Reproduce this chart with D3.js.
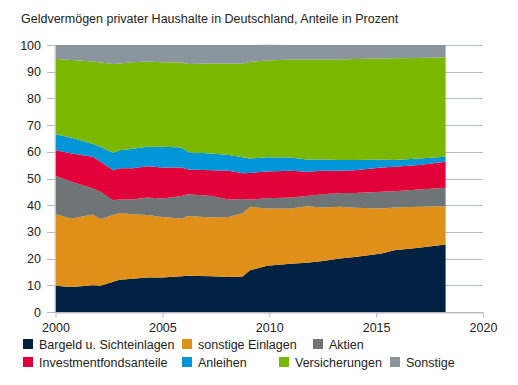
<!DOCTYPE html>
<html>
<head>
<meta charset="utf-8">
<script src="https://cdn.jsdelivr.net/npm/d3@7"></script>
<style>
  body { margin: 0; background: #fff; }
  svg { display: block; font-family: "Liberation Sans", Arial, sans-serif; }
</style>
</head>
<body>
<svg width="518" height="385"></svg>
<script>
// dates (decimal years) and shares in percent
var dates = [2000.0, 2000.75, 2001.75, 2002.1, 2002.7, 2003.0, 2003.6, 2004.3, 2005.0, 2005.9,
             2006.2, 2007.3, 2008.1, 2008.75, 2009.1, 2009.9, 2011.0, 2011.75, 2012.5, 2013.3,
             2014.0, 2015.25, 2015.85, 2017.0, 2018.25];
var bargeld = [9.8, 9.4, 10.0, 9.8, 11.3, 12.1, 12.5, 12.9, 12.9, 13.4, 13.6, 13.4, 13.1, 13.3, 15.6,
               17.3, 18.1, 18.4, 19.1, 20.0, 20.6, 21.9, 23.1, 24.1, 25.3];
var einlagen = [26.8, 25.6, 26.5, 25.0, 25.0, 25.0, 24.1, 23.4, 22.7, 21.6, 22.4, 22.0, 22.5, 23.7, 23.8,
                21.5, 20.7, 21.2, 20.0, 19.4, 18.4, 16.9, 16.0, 15.3, 14.3];
var aktien = [14.3, 13.8, 9.8, 10.2, 5.6, 5.0, 5.5, 6.6, 6.9, 8.4, 8.1, 8.0, 6.5, 5.3, 2.7,
              3.8, 4.1, 3.8, 5.0, 5.2, 5.6, 6.2, 6.1, 6.5, 6.9];
var fonds = [9.7, 10.6, 11.8, 11.3, 11.2, 11.7, 11.7, 11.7, 11.6, 10.7, 9.3, 9.7, 10.8, 9.7, 10.0,
             10.0, 10.0, 9.1, 8.8, 8.3, 8.5, 9.1, 9.2, 9.2, 9.8];
var anleihen = [6.0, 5.9, 4.8, 5.6, 6.5, 6.8, 7.3, 7.3, 7.8, 7.5, 6.4, 6.3, 5.9, 6.0, 5.4,
                5.4, 5.0, 4.6, 4.2, 4.0, 3.8, 3.0, 2.5, 2.4, 1.8];
var versicherungen = [28.2, 29.1, 30.9, 31.5, 33.3, 32.5, 32.4, 31.9, 31.6, 31.8, 33.1, 33.7, 34.3, 35.0, 36.2,
                      36.2, 36.7, 37.5, 37.5, 37.7, 37.9, 37.8, 38.1, 37.6, 37.3];
var sonstige = [5.2, 5.6, 6.2, 6.6, 7.1, 6.9, 6.5, 6.2, 6.5, 6.6, 7.1, 6.9, 6.9, 7.0, 6.3,
                5.9, 5.4, 5.4, 5.4, 5.4, 5.2, 5.1, 5.0, 4.9, 4.6];

var seriesNames = ["Bargeld u. Sichteinlagen", "sonstige Einlagen", "Aktien", "Investmentfondsanteile",
                   "Anleihen", "Versicherungen", "Sonstige"];
var seriesData = [bargeld, einlagen, aktien, fonds, anleihen, versicherungen, sonstige];
var colors = ["#002142", "#e09018", "#6d7576", "#e2003a", "#0096d8", "#7ab800", "#8a959e"];
var yTicks = [0, 10, 20, 30, 40, 50, 60, 70, 80, 90, 100];
var xTicks = [2000, 2005, 2010, 2015, 2020];

var svg = d3.select("svg");
var margin = { left: 55.5, right: 35, top: 45, bottom: 73 };
var width = 518, height = 385;

var x = d3.scaleLinear().domain([2000, 2020]).range([margin.left, width - margin.right]);
var y = d3.scaleLinear().domain([0, 100]).range([height - margin.bottom, margin.top]);

// build rows for the stack
var rows = dates.map(function (d, i) {
    var r = { date: d };
    seriesNames.forEach(function (n, k) { r[n] = seriesData[k][i]; });
    return r;
});
var stacked = d3.stack().keys(seriesNames)(rows);

svg.append("text")
    .attr("x", 21).attr("y", 23)
    .attr("font-size", 12.5).attr("fill", "#222")
    .text("Geldvermögen privater Haushalte in Deutschland, Anteile in Prozent");

// grid lines
svg.append("g").selectAll("line").data(yTicks).enter().append("line")
    .attr("x1", 47).attr("x2", x(2020))
    .attr("y1", function (d) { return Math.round(y(d)) + 0.5; })
    .attr("y2", function (d) { return Math.round(y(d)) + 0.5; })
    .attr("stroke", "#b3bac1").attr("stroke-width", 1);

svg.append("g").selectAll("text").data(yTicks).enter().append("text")
    .attr("x", 41).attr("y", function (d) { return y(d) + 4.5; })
    .attr("text-anchor", "end").attr("font-size", 12.5).attr("fill", "#222")
    .text(function (d) { return d; });

var area = d3.area()
    .x(function (d) { return x(d.data.date); })
    .y0(function (d) { return y(d[0]); })
    .y1(function (d) { return y(d[1]); });

svg.append("g").selectAll("path").data(stacked).enter().append("path")
    .attr("d", area)
    .attr("fill", function (d, i) { return colors[i]; });

// left axis line
svg.append("line")
    .attr("x1", x(2000) - 0.5).attr("x2", x(2000) - 0.5)
    .attr("y1", y(100)).attr("y2", y(0))
    .attr("stroke", "#c8ced3");

// x axis
var xAxis = svg.append("g").attr("transform", "translate(0," + (Math.round(y(0)) + 0.5) + ")")
    .call(d3.axisBottom(x).tickValues(xTicks).tickFormat(d3.format("d")).tickSize(5).tickSizeOuter(0));
xAxis.select(".domain").attr("stroke", "#b3bac1");
xAxis.selectAll(".tick line").attr("stroke", "#b3bac1");
xAxis.selectAll(".tick text").attr("font-size", 12.5).attr("fill", "#222")
    .attr("font-family", "Liberation Sans, Arial, sans-serif").attr("dy", "0.9em");

// legend
var legendPos = [[23, 339], [182, 339], [313, 339], [23, 357], [182, 357], [279, 357], [390, 357]];
var legend = svg.append("g").selectAll("g").data(seriesNames).enter().append("g")
    .attr("transform", function (d, i) { return "translate(" + legendPos[i][0] + "," + legendPos[i][1] + ")"; });
legend.append("rect").attr("width", 10).attr("height", 10)
    .attr("fill", function (d, i) { return colors[i]; });
legend.append("text").attr("x", 16).attr("y", 9.5)
    .attr("font-size", 12.5).attr("fill", "#222")
    .text(function (d) { return d; });
</script>
</body>
</html>
